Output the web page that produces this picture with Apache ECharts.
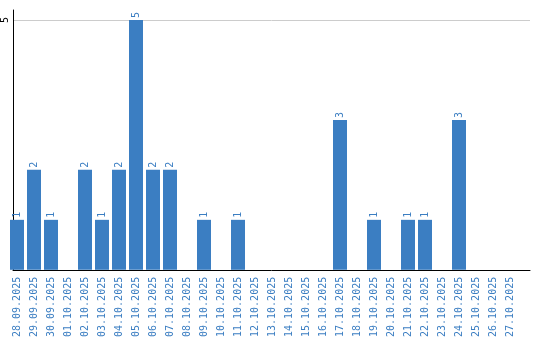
<!DOCTYPE html>
<html><head><meta charset="utf-8">
<script src="https://cdn.jsdelivr.net/npm/echarts@6/dist/echarts.min.js"></script>
<style>html,body{margin:0;padding:0;background:#fff}#c{width:540px;height:340px}</style>
</head><body><div id="c"></div>
<script>
const categories = ['28.09.2025','29.09.2025','30.09.2025','01.10.2025','02.10.2025','03.10.2025','04.10.2025','05.10.2025','06.10.2025','07.10.2025','08.10.2025','09.10.2025','10.10.2025','11.10.2025','12.10.2025','13.10.2025','14.10.2025','15.10.2025','16.10.2025','17.10.2025','18.10.2025','19.10.2025','20.10.2025','21.10.2025','22.10.2025','23.10.2025','24.10.2025','25.10.2025','26.10.2025','27.10.2025'];
const values = [1,2,1,0,2,1,2,5,2,2,0,1,0,1,0,0,0,0,0,3,0,1,0,1,1,0,3,0,0,0];
const yTicks = [5];

const blue = '#3b7ec2';
const font = 'DejaVu Sans Mono';
const chart = echarts.init(document.getElementById('c'));
chart.setOption({
  animation: false,
  grid: [
    {left: 10, right: 10, top: 10, bottom: 70},
    {left: 8.5, right: 21.5, top: 10, bottom: 70}
  ],
  xAxis: [
    {gridIndex: 0, type: 'value', min: 0, max: 1, axisLine: {show: true, onZero: false, lineStyle: {color: '#000', width: 1}}, axisTick: {show: false}, axisLabel: {show: false}, splitLine: {show: false}},
    {gridIndex: 1, type: 'category', data: categories, axisLine: {show: false}, axisTick: {show: false},
     axisLabel: {rotate: 90, interval: 0, color: blue, fontFamily: font, fontSize: 10, margin: 7}}
  ],
  yAxis: [
    {gridIndex: 0, type: 'value', min: 0, max: 5.2, interval: 5,
     axisLine: {show: true, lineStyle: {color: '#000', width: 1}}, axisTick: {show: false},
     axisLabel: {rotate: 90, margin: 3, color: '#000', fontFamily: font, fontSize: 10, formatter: v => yTicks.includes(v) ? String(v) : ''},
     splitLine: {show: true, showMinLine: false, showMaxLine: false, lineStyle: {color: '#cccccc', width: 1}}},
    {gridIndex: 1, type: 'value', min: 0, max: 5.2, show: false}
  ],
  series: [{
    type: 'bar', xAxisIndex: 1, yAxisIndex: 1, data: values, barWidth: 14,
    itemStyle: {color: blue},
    label: {show: true, position: 'top', rotate: 90, align: 'left', verticalAlign: 'middle', distance: 2, color: blue, fontFamily: font, fontSize: 10,
      formatter: p => p.value === 0 ? '' : String(p.value)}
  }]
});
</script></body></html>
